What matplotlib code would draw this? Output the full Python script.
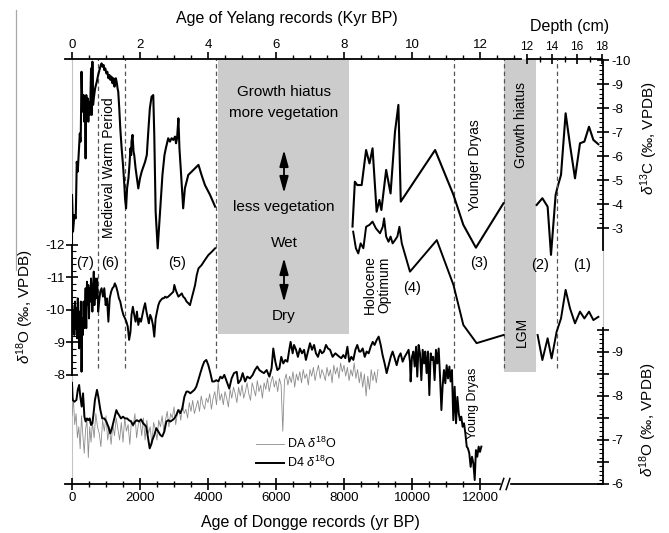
import matplotlib.pyplot as plt
from matplotlib.lines import Line2D
from matplotlib.patches import FancyArrowPatch, Rectangle
from matplotlib.ticker import FuncFormatter
import numpy as np

plt.rcParams['font.family'] = ['Liberation Sans', 'DejaVu Sans']
plt.rcParams['mathtext.fontset'] = 'custom'
plt.rcParams['mathtext.rm'] = 'Liberation Sans'
plt.rcParams['mathtext.it'] = 'Liberation Sans:italic'
plt.rcParams['axes.unicode_minus'] = False

# ---------------- Yelang record, age in kyr BP ----------------
yl13_age_a = [0.0, 0.0, 0.03, 0.07, 0.11, 0.14, 0.17, 0.19, 0.23, 0.25, 0.26, 0.28, 0.31, 0.34, 0.36,
              0.38, 0.40, 0.42, 0.44, 0.46, 0.48, 0.50, 0.52, 0.54, 0.56, 0.58, 0.60, 0.62, 0.64, 0.68,
              0.73, 0.77, 0.82, 0.85, 0.87, 0.90, 0.93, 0.95, 0.98, 1.01, 1.04, 1.07, 1.10, 1.13, 1.16,
              1.19, 1.22, 1.25, 1.26, 1.29, 1.32, 1.34, 1.36, 1.39, 1.42, 1.46, 1.50, 1.54, 1.56, 1.59,
              1.62, 1.66, 1.69, 1.72, 1.74, 1.75, 1.78, 1.81, 1.83, 1.87, 1.91, 1.95, 2.00, 2.05, 2.15,
              2.20, 2.25, 2.29, 2.34, 2.39, 2.42, 2.46, 2.52, 2.59, 2.66, 2.72, 2.76, 2.83, 2.88, 2.93,
              2.98, 3.03, 3.06, 3.09, 3.13, 3.16, 3.21, 3.27, 3.32, 3.42, 3.52, 3.62, 3.72, 3.81, 3.91,
              4.06, 4.21]
yl13_a = [-2.29, -4.38, -2.85, -3.54, -3.40, -5.76, -5.35, -5.90, -6.94, -6.60, -7.01, -9.51, -7.85, -8.54, -7.43,
          -8.26, -5.90, -8.54, -7.85, -8.40, -7.43, -8.26, -7.71, -8.26, -9.65, -7.71, -9.93, -8.13, -8.40, -8.82,
          -9.10, -9.38, -9.65, -9.79, -9.86, -9.72, -9.79, -9.58, -9.65, -9.44, -9.51, -9.24, -9.38, -9.17, -9.31,
          -9.03, -9.24, -8.89, -9.10, -9.24, -9.03, -8.82, -8.68, -7.99, -7.15, -6.32, -5.63, -4.79, -4.24, -3.82,
          -4.65, -5.07, -5.63, -6.32, -6.04, -6.60, -6.88, -6.18, -6.04, -5.49, -5.07, -4.65, -5.07, -5.35, -5.76,
          -6.04, -7.15, -7.99, -8.47, -8.54, -6.88, -3.68, -2.15, -3.68, -5.21, -6.04, -6.32, -6.74, -6.60, -6.74,
          -6.67, -6.81, -6.53, -6.74, -7.57, -6.32, -5.21, -3.82, -4.65, -5.21, -5.35, -5.49, -5.63, -5.21, -4.79,
          -4.38, -3.89]
yl13_age_b = [8.25, 8.32, 8.39, 8.52, 8.65, 8.75, 8.84, 8.96, 9.04, 9.10, 9.24, 9.37, 9.50, 9.60, 9.67,
              10.68, 11.22, 11.51, 11.88, 12.69]
yl13_b = [-3.06, -4.93, -4.79, -4.79, -6.25, -5.69, -6.32, -3.68, -4.17, -3.75, -5.42, -4.44, -7.01, -8.13, -4.10,
          -6.25, -4.38, -3.13, -2.18, -4.03]

yl18_age_a = [0.0, 0.01, 0.03, 0.05, 0.07, 0.09, 0.11, 0.13, 0.15, 0.17, 0.19, 0.21, 0.23, 0.25, 0.26,
              0.28, 0.30, 0.32, 0.34, 0.36, 0.38, 0.40, 0.42, 0.44, 0.46, 0.48, 0.50, 0.52, 0.54, 0.56,
              0.58, 0.60, 0.62, 0.64, 0.66, 0.68, 0.70, 0.72, 0.74, 0.75, 0.77, 0.80, 0.83, 0.87, 0.91,
              0.95, 0.99, 1.03, 1.07, 1.11, 1.15, 1.19, 1.23, 1.26, 1.30, 1.34, 1.38, 1.42, 1.46, 1.51,
              1.56, 1.60, 1.64, 1.68, 1.72, 1.75, 1.79, 1.83, 1.87, 1.91, 1.95, 1.99, 2.03, 2.07, 2.11,
              2.15, 2.19, 2.23, 2.26, 2.30, 2.34, 2.38, 2.42, 2.46, 2.50, 2.54, 2.58, 2.62, 2.66, 2.70,
              2.74, 2.78, 2.83, 2.88, 2.93, 2.98, 3.01, 3.05, 3.09, 3.13, 3.18, 3.23, 3.27, 3.32, 3.37,
              3.42, 3.47, 3.52, 3.57, 3.62, 3.67, 3.72, 3.81, 3.91, 4.01, 4.11, 4.21]
yl18_a = [-9.54, -10.15, -9.33, -9.95, -9.23, -10.26, -9.44, -10.05, -9.13, -10.36, -9.64, -8.82, -9.95, -9.23, -10.26,
          -8.10, -9.74, -9.23, -10.26, -9.44, -9.95, -10.67, -9.44, -10.87, -10.15, -10.77, -9.74, -10.67, -10.26, -10.97,
          -10.46, -9.95, -10.67, -11.18, -10.15, -10.97, -10.36, -10.77, -10.97, -10.67, -9.95, -10.26, -10.56, -10.67, -10.41,
          -10.67, -10.15, -10.36, -9.64, -10.36, -10.56, -10.67, -10.72, -10.82, -10.72, -10.56, -10.36, -10.26, -10.05, -9.85,
          -9.74, -9.64, -9.49, -9.08, -9.33, -9.85, -10.10, -9.85, -9.64, -9.95, -9.54, -9.74, -9.64, -9.85, -10.05,
          -10.21, -9.95, -9.74, -9.59, -9.85, -9.74, -9.54, -9.18, -9.74, -9.95, -10.15, -10.26, -10.31, -10.36, -10.36,
          -10.41, -10.38, -10.41, -10.46, -10.51, -10.56, -10.77, -10.62, -10.51, -10.41, -10.46, -10.51, -10.41, -10.36, -10.26,
          -10.21, -10.15, -10.36, -10.56, -10.77, -11.08, -11.28, -11.38, -11.54, -11.69, -11.79, -11.90]
yl18_age_b = [8.27, 8.35, 8.42, 8.49, 8.57, 8.65, 8.75, 8.84, 8.94, 9.06, 9.14, 9.18, 9.24, 9.31, 9.37,
              9.43, 9.50, 9.57, 9.63, 9.70, 9.94, 10.73, 11.22, 11.51, 11.90, 12.69]
yl18_b = [-12.41, -11.90, -11.74, -12.05, -11.90, -12.56, -12.62, -12.72, -12.51, -12.36, -12.56, -12.82, -12.26, -12.10, -12.26,
          -12.05, -12.15, -12.26, -12.56, -12.05, -11.18, -12.15, -10.77, -9.54, -8.98, -9.23]

# older Yelang part, by depth (cm)
dep13_depth = [12.77, 13.23, 13.65, 13.92, 14.29, 14.45, 14.72, 15.09, 15.44, 15.84, 16.24, 16.59, 16.96, 17.31, 17.71]
dep13 = [-3.96, -4.24, -3.89, -1.88, -4.38, -4.72, -5.21, -7.78, -6.46, -5.07, -6.53, -6.60, -7.22, -6.67, -6.49]
dep18_depth = [12.85, 13.23, 13.65, 13.97, 14.37, 14.72, 15.09, 15.44, 15.84, 16.24, 16.59, 16.96, 17.31, 17.71]
dep18 = [-9.23, -8.46, -9.13, -8.51, -9.33, -9.74, -10.62, -10.05, -9.59, -9.95, -9.74, -9.95, -9.69, -9.79]

# ---------------- Dongge record, age in yr BP ----------------
d4_age = [0, 20, 70, 130, 170, 210, 245, 285, 325, 365, 400, 440, 480, 520, 560, 600, 635, 675, 735, 775,
          835, 890, 950, 1010, 1070, 1125, 1185, 1245, 1305, 1345, 1380, 1440, 1500, 1560, 1620, 1675, 1735,
          1795, 1855, 1910, 1970, 2030, 2090, 2145, 2185, 2225, 2285, 2325, 2365, 2420, 2480, 2540, 2600,
          2655, 2715, 2775, 2835, 2890, 2950, 3010, 3070, 3125, 3185, 3245, 3305, 3365, 3420, 3480, 3540,
          3600, 3655, 3715, 3775, 3835, 3890, 3950, 4010, 4070, 4125, 4185, 4245, 4305, 4365, 4420, 4480,
          4570, 4625, 4695, 4765, 4845, 4890, 4960, 5020, 5090, 5155, 5235, 5315, 5380, 5450, 5510, 5580,
          5645, 5725, 5805, 5870, 5920, 5980, 6040, 6100, 6155, 6215, 6275, 6335, 6390, 6430, 6490, 6530,
          6590, 6645, 6705, 6765, 6825, 6880, 6940, 7000, 7060, 7120, 7175, 7235, 7295, 7355, 7410, 7470,
          7530, 7590, 7665, 7745, 7805, 7865, 7920, 7980, 8040, 8100, 8155, 8215, 8275, 8335, 8390, 8450,
          8490, 8550, 8610, 8665, 8725, 8785, 8845, 8900, 8960, 9020, 9080, 9135, 9195, 9255, 9315, 9375,
          9430, 9490, 9550, 9610, 9665, 9725, 9785, 9845, 9900, 9940, 9960, 10000, 10040, 10080, 10120,
          10155, 10195, 10235, 10275, 10315, 10355, 10390, 10430, 10470, 10510, 10550, 10590, 10625, 10665,
          10705, 10745, 10785, 10825, 10865, 10900, 10940, 10980, 11020, 11060, 11100, 11135, 11175, 11215,
          11255, 11295, 11335, 11375, 11410, 11450, 11490, 11530, 11570, 11610, 11645, 11685, 11725, 11765,
          11805, 11845, 11880, 11920, 11960, 12000, 12040]
d4 = [-8.30, -7.91, -7.87, -7.91, -8.14, -8.25, -7.98, -7.76, -8.06, -7.53, -7.42, -7.49, -7.45, -7.49, -7.34, -7.38,
      -7.61, -7.91, -8.14, -7.98, -7.68, -7.49, -7.49, -7.42, -7.30, -7.15, -7.30, -7.49, -7.68, -7.61, -7.57, -7.49,
      -7.53, -7.49, -7.49, -7.45, -7.42, -7.34, -7.42, -7.45, -7.42, -7.47, -7.38, -7.34, -7.30, -7.11, -6.81, -6.89,
      -7.00, -7.11, -7.27, -7.19, -7.11, -7.08, -7.19, -7.42, -7.45, -7.42, -7.45, -7.49, -7.57, -7.68, -7.61, -7.72,
      -7.98, -8.10, -8.10, -8.06, -8.10, -8.14, -8.21, -8.36, -8.52, -8.67, -8.78, -8.82, -8.70, -8.52, -8.33, -8.33,
      -8.36, -8.33, -8.44, -8.40, -8.48,
      -8.29, -8.17, -8.40, -8.52, -8.55, -8.29, -8.36, -8.52, -8.33, -8.44, -8.40, -8.48, -8.59, -8.67, -8.59, -8.55,
      -8.52, -8.59, -8.44, -8.63, -9.08, -8.78, -8.59, -8.63, -8.89, -8.74, -8.82, -8.78, -9.05, -9.23, -8.97, -9.16,
      -9.05, -8.89, -9.08, -8.97, -9.05, -8.82, -9.01, -9.20, -9.05, -9.16, -8.97, -8.89, -9.05, -8.97, -9.01, -9.16,
      -9.08, -9.05, -8.89, -8.97, -8.93, -8.89, -8.86, -8.93, -8.86, -9.12, -8.78, -8.89, -8.82, -9.05, -9.16, -9.01,
      -9.01, -9.08, -8.89, -9.01, -8.97, -9.12, -9.23, -9.16, -9.27, -9.35, -9.16, -8.93, -8.74, -8.52, -8.70, -8.89,
      -9.01, -8.86, -8.70, -8.89, -8.97, -8.78, -8.89, -8.97, -9.05, -8.78, -8.33, -8.89, -9.01, -8.67, -9.12,
      -8.44, -9.16, -8.97, -8.36, -9.05, -8.74, -9.01, -8.52, -9.01, -8.02, -8.97, -8.82, -8.89, -8.36,
      -9.05, -8.74, -9.08, -8.44, -7.68, -8.21, -8.59, -8.29, -8.70, -8.40, -8.67, -8.33, -8.59, -7.45,
      -8.21, -7.38, -7.98, -7.61, -7.45, -7.53, -7.30, -7.38, -7.15, -6.85, -6.81, -6.70, -6.39, -6.62,
      -6.47, -6.09, -6.77, -6.62, -6.85, -6.73, -6.85]

da_age = [0, 40, 80, 120, 160, 200, 240, 280, 320, 360, 400, 440, 480, 520, 560, 600,
          650, 700, 750, 800, 850, 900, 950, 1000, 1050, 1100, 1150, 1200, 1250, 1300, 1350, 1400,
          1450, 1500, 1550, 1600, 1650, 1700, 1750, 1800, 1850, 1900, 1950, 2000, 2050, 2100, 2150,
          2200, 2250, 2300, 2350, 2400, 2450, 2500, 2550, 2600, 2650, 2700, 2750, 2800, 2850, 2900,
          2950, 3000, 3050, 3100, 3150, 3200, 3250, 3300, 3350, 3400, 3450, 3500, 3550, 3600, 3650,
          3700, 3750, 3800, 3850, 3900, 3950, 4000, 4050, 4100, 4150, 4200, 4250, 4300, 4350, 4400,
          4450, 4500, 4550, 4600, 4650, 4700, 4750, 4800, 4850, 4900, 4950, 5000, 5050, 5100, 5150,
          5200, 5250, 5300, 5350, 5400, 5450, 5500, 5550, 5600, 5650, 5700, 5750, 5800, 5850, 5900,
          5950, 6000, 6050, 6100, 6150, 6200, 6250, 6300, 6350, 6400, 6450, 6500, 6550, 6600, 6650,
          6700, 6750, 6800, 6850, 6900, 6950, 7000, 7050, 7100, 7150, 7200, 7250, 7300, 7350, 7400,
          7450, 7500, 7550, 7600, 7650, 7700, 7750, 7800, 7850, 7900, 7950, 8000, 8050, 8100, 8150,
          8200, 8250, 8300, 8350, 8400, 8450, 8500, 8550, 8600, 8650, 8700, 8750, 8800, 8850, 8900,
          8950, 9000]
da = [-7.55, -7.95, -7.35, -7.60, -7.05, -7.30, -6.80, -7.55, -7.10, -6.70, -7.25, -7.45, -6.60, -7.30, -6.95, -7.40,
      -7.05, -7.60, -7.30, -7.15, -6.85, -7.45, -7.20, -7.55, -7.00, -7.30, -6.90, -7.35, -7.10, -7.50, -7.25, -7.00,
      -7.40, -6.95, -7.50, -7.20, -7.35, -6.90, -7.45, -7.30, -7.60, -7.05, -7.35, -7.45, -7.10, -7.50, -7.00,
      -7.45, -7.15, -7.30, -6.90, -7.40, -7.25, -7.00, -7.45, -7.30, -7.55, -7.20, -7.45, -7.65, -7.30, -7.60,
      -7.50, -7.75, -7.35, -7.60, -7.70, -7.45, -7.80, -7.60, -7.70, -7.50, -7.85, -7.65, -7.90, -7.60, -7.75,
      -7.90, -7.65, -8.00, -7.80, -7.70, -7.95, -7.85, -8.05, -7.70, -7.95, -8.10, -7.80, -8.30, -7.90, -8.05,
      -7.80, -8.10, -7.95, -7.75, -8.15, -7.95, -8.20, -8.05, -7.85, -8.20, -8.00, -8.25, -7.95, -8.10, -8.30,
      -8.05, -7.90, -8.30, -8.15, -8.00, -8.35, -8.10, -8.25, -7.95, -8.30, -8.15, -8.40, -8.10, -8.30, -8.45,
      -8.20, -8.35, -8.10, -8.40, -8.25, -7.20, -8.35, -8.50, -8.25, -8.45, -8.30, -8.55, -8.20, -8.50, -8.35,
      -8.55, -8.30, -8.60, -8.40, -8.50, -8.25, -8.60, -8.45, -8.65, -8.35, -8.55, -8.70, -8.40, -8.60, -8.50,
      -8.35, -8.65, -8.45, -8.60, -8.30, -8.70, -8.50, -8.65, -8.40, -8.75, -8.55, -8.70, -8.45, -8.65, -8.35,
      -8.60, -8.45, -8.75, -8.40, -8.60, -8.30, -8.55, -8.20, -8.50, -8.00, -8.45, -8.15, -8.60, -8.35, -8.55,
      -8.30, -8.60]

# period boundaries and growth hiatuses
bounds_kyr = [0.76, 1.56, 4.235, 11.235, 12.72]
bounds_depth = [14.37]
hiatus_kyr = [(4.30, 8.15, -9.26), (12.72, 13.64, -8.10)]
periods = ['(7)', '(6)', '(5)', '(4)', '(3)', '(2)', '(1)']

W, H = 669, 533
fig = plt.figure(figsize=(W / 100, H / 100), dpi=100)


def fpos(px, py):
    return px / W, 1 - py / H


rect = [72 / W, 1 - 484 / H, 531 / W, 425 / H]
KYR_LIM = (0, 15.618)
YR_LIM = (0, 15618)
DEP_LIM = (-24.4, 18.08)
O18_YL = (-4.646, -17.723)
C13_YL = (7.667, -10.042)
O18_DG = (-6.0, -15.659)


def layer(xlim, ylim):
    a = fig.add_axes(rect)
    a.patch.set_visible(False)
    a.set_xlim(*xlim)
    a.set_ylim(*ylim)
    for s in a.spines.values():
        s.set_visible(False)
        s.set_linewidth(1.3)
    a.set_xticks([])
    a.set_yticks([])
    return a


frame = fig.add_axes(rect)
frame.set_xticks([])
frame.set_yticks([])
for s in ['top', 'bottom']:
    frame.spines[s].set_visible(False)
for s in ['left', 'right']:
    frame.spines[s].set_color('#c4c4c4')
    frame.spines[s].set_linewidth(0.8)

# thin edge line at the far left of the original picture
fig.add_artist(Line2D([16 / W, 16 / W], [1 - 270 / H, 1 - 10 / H], color='#a8a8a8', lw=0.9))

# hiatus shading + dashed period boundaries (Yelang kyr axis)
ax18 = layer(KYR_LIM, O18_YL)
for x0, x1, yb in hiatus_kyr:
    ax18.fill_between([x0, x1], yb, O18_YL[1], color='#cccccc', lw=0, zorder=0)
ax18.vlines(bounds_kyr, -8.2, O18_YL[1], colors='#555555', linestyles=(0, (3.5, 2.5)), lw=0.9)
ax18.plot(yl18_age_a, yl18_a, color='k', lw=1.4)
ax18.plot(yl18_age_b, yl18_b, color='k', lw=1.4)
ax18.spines['left'].set_visible(True)
ax18.spines['left'].set_bounds(-12, -8)
ax18.spines['top'].set_visible(True)
ax18.spines['top'].set_bounds(-0.2, 13.2)
ax18.xaxis.tick_top()
ax18.set_xticks(range(0, 13, 2))
ax18.set_xticks(np.arange(0, 13.01, 0.5), minor=True)
ax18.tick_params(axis='x', which='both', direction='out', top=True, bottom=False,
                 labeltop=True, labelbottom=False, labelsize=9.5, pad=1)
ax18.tick_params(axis='x', which='major', length=5, width=1.2)
ax18.tick_params(axis='x', which='minor', length=3, width=1.0)
ax18.set_yticks(range(-12, -7))
ax18.set_yticks(np.arange(-12, -7.9, 0.2), minor=True)
ax18.tick_params(axis='y', which='major', direction='inout', length=8, width=1.2, labelsize=9.5, pad=1)
ax18.tick_params(axis='y', which='minor', direction='in', length=3, width=0.8)

ax13 = layer(KYR_LIM, C13_YL)
ax13.plot(yl13_age_a, yl13_a, color='k', lw=1.5)
ax13.plot(yl13_age_b, yl13_b, color='k', lw=1.5)
ax13.spines['right'].set_visible(True)
ax13.spines['right'].set_bounds(-10, -2.1)
ax13.yaxis.tick_right()
ax13.set_yticks(range(-10, -2))
ax13.set_yticks(np.arange(-10, -2.9, 0.2), minor=True)
ax13.tick_params(axis='y', which='major', direction='inout', length=8, width=1.2, labelsize=9.5, pad=2)
ax13.tick_params(axis='y', which='minor', direction='in', length=3, width=0.8)

axdc = layer(DEP_LIM, C13_YL)
axdc.plot(dep13_depth, dep13, color='k', lw=1.5)
axdc.spines['top'].set_visible(True)
axdc.spines['top'].set_bounds(12, 18)
axdc.xaxis.tick_top()
axdc.set_xticks([12, 14, 16, 18])
axdc.set_xticks([13, 15, 17], minor=True)
axdc.tick_params(axis='x', which='both', direction='inout', top=True, bottom=False,
                 labeltop=True, labelbottom=False, labelsize=8.5, pad=1)
axdc.tick_params(axis='x', which='major', length=7, width=1.2)
axdc.tick_params(axis='x', which='minor', length=5, width=1.0)

axdo = layer(DEP_LIM, O18_YL)
axdo.vlines(bounds_depth, -8.2, O18_YL[1], colors='#555555', linestyles=(0, (3.5, 2.5)), lw=0.9)
axdo.plot(dep18_depth, dep18, color='k', lw=1.4)

# Dongge record
axd = layer(YR_LIM, O18_DG)
axd.plot(da_age, da, color='#8c8c8c', lw=0.6, label=r'DA $\delta^{18}$O')
axd.plot(d4_age, d4, color='k', lw=1.4, label=r'D4 $\delta^{18}$O')
axd.spines['bottom'].set_visible(True)
axd.spines['bottom'].set_bounds(-200, 15618)
axd.spines['right'].set_visible(True)
axd.spines['right'].set_bounds(-6, -9.55)
axd.set_xticks(range(0, 12001, 2000))
axd.set_xticks(range(500, 12000, 500), minor=True)
axd.tick_params(axis='x', which='both', direction='inout', bottom=True, top=False, labelsize=9.5, pad=2)
axd.tick_params(axis='x', which='major', length=8, width=1.2)
axd.tick_params(axis='x', which='minor', length=4, width=1.0)
axd.yaxis.tick_right()
axd.set_yticks(np.arange(-9.5, -5.9, 0.5))
axd.set_yticks(np.arange(-9.5, -5.95, 0.1), minor=True)
axd.yaxis.set_major_formatter(FuncFormatter(lambda v, p: '%d' % round(v) if abs(v - round(v)) < 1e-6 else ''))
axd.tick_params(axis='y', which='major', direction='inout', length=8, width=1.2, labelsize=9.5, pad=2)
axd.tick_params(axis='y', which='minor', direction='in', length=3, width=0.8)

# axis break on the Dongge age axis
brk = 12735
tr = axd.get_xaxis_transform()
axd.add_patch(Rectangle((brk - 110, -0.012), 220, 0.024, transform=tr, color='white', clip_on=False, zorder=5))
for dx in (-90, 90):
    axd.plot([brk + dx - 55, brk + dx + 55], [-0.013, 0.013], transform=tr, color='k', lw=1.1,
             clip_on=False, zorder=6)

axd.legend(loc='upper left', bbox_to_anchor=fpos(256, 436), bbox_transform=fig.transFigure,
           frameon=False, fontsize=9, handlelength=2.2, handletextpad=0.3, labelspacing=0.3,
           borderpad=0, borderaxespad=0)

# axis titles
fig.text(*fpos(287, 18), 'Age of Yelang records (Kyr BP)', ha='center', va='center', fontsize=11.5)
fig.text(*fpos(570, 26), 'Depth (cm)', ha='center', va='center', fontsize=11.5)
fig.text(*fpos(310, 523), 'Age of Dongge records (yr BP)', ha='center', va='center', fontsize=11.5)
fig.text(*fpos(25, 307), r'$\delta^{18}$O (‰, VPDB)', ha='center', va='center', rotation=90, fontsize=11)
fig.text(*fpos(649, 138), r'$\delta^{13}$C (‰, VPDB)', ha='center', va='center', rotation=90, fontsize=11)
fig.text(*fpos(648, 420), r'$\delta^{18}$O (‰, VPDB)', ha='center', va='center', rotation=90, fontsize=11)

# annotations
for (px, py), s in zip([(85, 263), (110, 263), (177, 263), (412, 288), (479, 263), (540, 265), (582, 265)], periods):
    fig.text(*fpos(px, py), s, ha='center', va='center', fontsize=10.5)
for px, py, s in [(284, 92, 'Growth hiatus'), (284, 113, 'more vegetation'), (284, 207, 'less vegetation'),
                  (284, 243, 'Wet'), (284, 316, 'Dry')]:
    fig.text(*fpos(px, py), s, ha='center', va='center', fontsize=11)
for px, py, s, fs in [(109, 168, 'Medieval Warm Period', 10), (475, 165, 'Younger Dryas', 10),
                      (521, 125, 'Growth hiatus', 10), (522, 332, 'LGM', 10), (473, 403, 'Young Dryas', 9)]:
    fig.text(*fpos(px, py), s, ha='center', va='center', rotation=90, fontsize=fs)
fig.text(*fpos(377, 285), 'Holocene\nOptimum', ha='center', va='center', rotation=90, fontsize=10,
         linespacing=1.0)
for y0, y1 in [(150, 193), (258, 302)]:
    fig.add_artist(FancyArrowPatch(fpos(284, y0), fpos(284, y1), transform=fig.transFigure,
                                   arrowstyle='<|-|>,head_length=1.1,head_width=0.3', mutation_scale=9,
                                   lw=1.3, color='k', shrinkA=0, shrinkB=0))

fig.savefig('out.png', dpi=100)
